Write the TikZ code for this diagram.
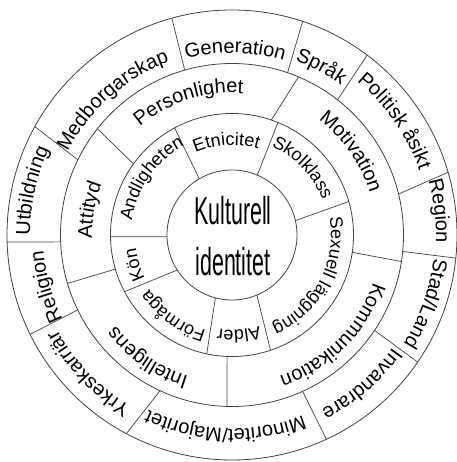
\documentclass[tikz,border=0pt]{standalone}
\usepackage{fontspec}
\setmainfont{Liberation Sans}
\usetikzlibrary{decorations.text}

\newcommand{\lblfont}{\fontsize{20}{20}\selectfont}
\newcommand{\corefont}{\fontsize{18}{18}\selectfont}
\tikzset{
  ring/.style={draw=black!75, line width=0.8pt},
  spoke/.style={draw=black!75, line width=0.7pt},
  arclabel/.style={decorate, decoration={text along path, text align=center, text={#1}}}
}
% text centred on angle #2, baseline radius #3, read clockwise
\newcommand{\ringtext}[4][\lblfont]{\path[arclabel={|#1|#4}] (#2+90:#3) arc[start angle=#2+90, end angle=#2-90, radius=#3];}

\begin{document}
\begin{tikzpicture}[x=1pt, y=1pt]
      \useasboundingbox (-232,-227) rectangle (224,235);
      \draw[ring] (0,0) circle[radius=225];
      \draw[ring] (0,0) circle[radius=171.5];
      \draw[ring] (0,0) circle[radius=121.5];
      \draw[ring] (0,0) circle[radius=65];
      \node[font=\fontsize{39}{51}\selectfont, xscale=0.55, align=center] (core) at (1,-1) {Kulturell\\identitet};

      \foreach \a/\b in {120.2/118.2, 67.1/67.8, 12.8/16, 292.5/288.5, 255.2/258, 212.6/207.8, 181.5/180.8}
        \draw[spoke] (\a:65) -- (\b:121.5);
      \foreach \a/\b in {144.2/141.7, 71.1/67.2, 351.8/351.1, 267.7/268.3, 196.3/196.4}
        \draw[spoke] (\a:121.5) -- (\b:171.5);
      \foreach \a/\b in {106/105.5, 71.1/71.7, 52/53.1, 13.8/16.2, 354.5/354.1, 326.2/325.6, 294.3/294.8, 245.2/242, 205.9/206.2, 182.3/181.8, 154/151.2}
        \draw[spoke] (\a:171.5) -- (\b:225);

      \ringtext[\corefont]{93.5}{90}{Etnicitet}
      \ringtext[\corefont]{43.5}{97}{Skolklass}
      \ringtext[\corefont]{332}{99}{Sexuell läggning}
      \ringtext[\corefont]{274}{95}{Alder}
      \ringtext[\corefont]{234}{99}{Förmåga}
      \ringtext[\corefont]{197}{97}{Kön}
      \ringtext[\corefont]{145}{101}{Andligheten}

      \ringtext{108}{142}{Personlighet}
      \ringtext{35}{144}{Motivation}
      \ringtext{315}{149}{Kommunikation}
      \ringtext{235.5}{148}{Intelligens}
      \ringtext{170}{140}{Attityd}

      \ringtext{131.5}{184}{Medborgarskap}
      \ringtext{89}{182}{Generation}
      \ringtext{62}{185}{Språk}
      \ringtext{35}{198}{Politisk åsikt}
      \ringtext{6.7}{204}{Region}
      \ringtext{340.5}{203}{Stad/Land}
      \ringtext{311}{196}{Invandrare}
      \ringtext{268}{194}{Minoritet/Majoritet}
      \ringtext{224}{199}{Yrkeskarriär}
      \ringtext{195.5}{189}{Religion}
      \ringtext{167.5}{202}{Utbildning}
    \end{tikzpicture}
\end{document}
